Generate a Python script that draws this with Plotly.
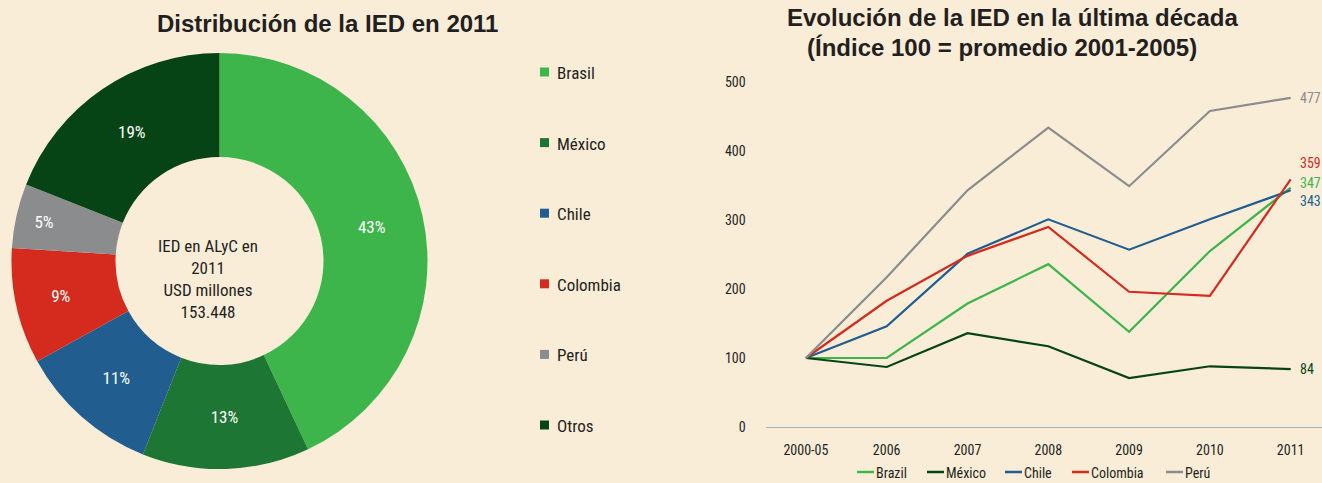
import plotly.graph_objects as go

# --- Donut: distribución de la IED en 2011 ---
pie_labels = ["Brasil", "México", "Chile", "Colombia", "Perú", "Otros"]
pie_values = [43, 13, 11, 9, 5, 19]
pie_colors = ["#3DB54A", "#1D7633", "#215E8F", "#D52B1E", "#8B8C8E", "#064416"]
center_text = "IED en ALyC en<br>2011<br>USD millones<br>153.448"

# --- Líneas: evolución de la IED (índice 100 = promedio 2001-2005) ---
years = ["2000-05", "2006", "2007", "2008", "2009", "2010", "2011"]
series_names = ["Brazil", "México", "Chile", "Colombia", "Perú"]
brazil = [100, 100, 179, 236, 138, 255, 347]
mexico = [100, 87, 136, 117, 71, 88, 84]
chile = [100, 146, 251, 301, 257, 301, 343]
colombia = [100, 183, 248, 290, 196, 190, 359]
peru = [100, 217, 343, 434, 349, 458, 477]
series_values = [brazil, mexico, chile, colombia, peru]
series_colors = ["#3DB54A", "#064416", "#215E8F", "#D52B1E", "#8B8C8E"]
# vertical nudge (px) of the end-of-line value labels so they don't overlap
label_shift = {"Brazil": 5, "México": 0, "Chile": -11, "Colombia": 16, "Perú": 0}

W, H = 1322, 483
BG = "#FAEDD8"
TXT = "#231F20"
NARROW = "Liberation Sans Narrow, Arial Narrow, Roboto Condensed, Liberation Sans, sans-serif"
BOLD = "Liberation Sans, Arial, sans-serif"


def px_x(x):
    return x / W


def px_y(y):
    return (H - y) / H


fig = go.Figure()

# donut
cx, cy, r = 219.5, 261, 208
fig.add_trace(go.Pie(
    labels=pie_labels, values=pie_values, marker=dict(colors=pie_colors, line=dict(width=0)),
    hole=0.5, sort=False, direction="clockwise", rotation=0,
    texttemplate="%{value}%", textposition="inside", insidetextorientation="horizontal",
    textfont=dict(family=NARROW, size=17, color="white"),
    domain=dict(x=[px_x(cx - r), px_x(cx + r)], y=[px_y(cy + r), px_y(cy - r)]),
    showlegend=False, hoverinfo="label+percent",
))

# lines
for name, vals, col in zip(series_names, series_values, series_colors):
    fig.add_trace(go.Scatter(
        x=years, y=vals, mode="lines", name=name,
        line=dict(color=col, width=2.2), showlegend=False,
    ))

annotations = []
shapes = []

# chart titles
annotations.append(dict(
    text="<b>Distribución de la IED en 2011</b>", x=px_x(327), y=px_y(23),
    xref="paper", yref="paper", showarrow=False, xanchor="center", yanchor="middle",
    font=dict(family=BOLD, size=24, color=TXT)))
annotations.append(dict(
    text="<b>Evolución de la IED en la última década</b>", x=px_x(1012), y=px_y(18),
    xref="paper", yref="paper", showarrow=False, xanchor="center", yanchor="middle",
    font=dict(family=BOLD, size=24, color=TXT)))
annotations.append(dict(
    text="<b>(Índice 100 = promedio 2001-2005)</b>", x=px_x(1002), y=px_y(48),
    xref="paper", yref="paper", showarrow=False, xanchor="center", yanchor="middle",
    font=dict(family=BOLD, size=24, color=TXT)))

# donut centre text
annotations.append(dict(
    text=center_text, x=px_x(208), y=px_y(279), xref="paper", yref="paper",
    showarrow=False, xanchor="center", yanchor="middle", align="center",
    font=dict(family=NARROW, size=17, color=TXT)))

# donut legend (one row every ~70.6 px)
for i, (lab, col) in enumerate(zip(pie_labels, pie_colors)):
    yc = 72 + i * 70.6
    shapes.append(dict(type="rect", xref="paper", yref="paper",
                       x0=px_x(540), x1=px_x(549), y0=px_y(yc + 4.5), y1=px_y(yc - 4.5),
                       fillcolor=col, line=dict(width=0)))
    annotations.append(dict(
        text=lab, x=px_x(555), y=px_y(yc + 1), xref="paper", yref="paper",
        showarrow=False, xanchor="left", yanchor="middle",
        font=dict(family=NARROW, size=17, color=TXT)))

# end-of-line value labels
last = len(years) - 1
for name, vals, col in zip(series_names, series_values, series_colors):
    annotations.append(dict(
        text=str(vals[-1]), x=last, y=vals[-1], xref="x", yref="y",
        showarrow=False, xanchor="left", yanchor="middle",
        xshift=7, yshift=label_shift[name],
        font=dict(family=NARROW, size=14, color=col)))

# line chart legend along the bottom
leg_x = [857, 927, 1005, 1072, 1166]
for name, col, lx in zip(series_names, series_colors, leg_x):
    shapes.append(dict(type="line", xref="paper", yref="paper",
                       x0=px_x(lx), x1=px_x(lx + 17), y0=px_y(472), y1=px_y(472),
                       line=dict(color=col, width=2.5)))
    annotations.append(dict(
        text=name, x=px_x(lx + 17), y=px_y(473), xref="paper", yref="paper",
        showarrow=False, xanchor="left", yanchor="middle",
        font=dict(family=NARROW, size=14, color=TXT)))

x_left = 765.5
fig.update_layout(
    width=W, height=H, margin=dict(l=0, r=0, t=0, b=0, autoexpand=False),
    paper_bgcolor=BG, plot_bgcolor=BG, showlegend=False,
    xaxis=dict(
        domain=[px_x(x_left), 1], type="category", automargin=False,
        range=[-0.5, -0.5 + (W - x_left) / 80.8],
        showgrid=False, zeroline=False, showline=True, linecolor="#A9B0BE", linewidth=1.2,
        ticks="outside", ticklen=10, tickcolor="rgba(0,0,0,0)",
        tickfont=dict(family=NARROW, size=14, color=TXT), fixedrange=True,
    ),
    yaxis=dict(
        domain=[px_y(427), px_y(82)], range=[0, 500], tickvals=[0, 100, 200, 300, 400, 500],
        automargin=False, showgrid=False, zeroline=False, showline=False,
        ticks="outside", ticklen=16, tickcolor="rgba(0,0,0,0)",
        tickfont=dict(family=NARROW, size=14, color=TXT), fixedrange=True,
    ),
    annotations=annotations, shapes=shapes,
)

fig.write_html("out.html")
